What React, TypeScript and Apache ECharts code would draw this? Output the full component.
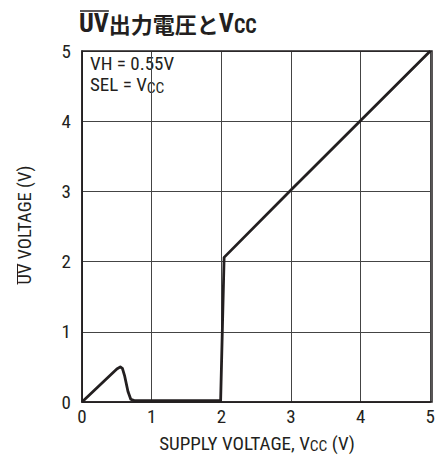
import React, { useEffect, useRef } from "react";
import * as echarts from "echarts";

const xValues = [0, 0.5, 0.55, 0.58, 0.61, 0.66, 0.7, 0.75, 1.0, 1.5, 1.99, 2.04, 3, 4, 5];
const yValues = [0, 0.47, 0.5, 0.48, 0.38, 0.15, 0.04, 0.02, 0.02, 0.02, 0.02, 2.06, 3.02, 4.01, 5];
const xTicks = [0, 1, 2, 3, 4, 5];
const yTicks = [0, 1, 2, 3, 4, 5];

const COND = "'Roboto Condensed', 'Liberation Sans Narrow', sans-serif";
const JP = "'Noto Sans CJK JP', sans-serif";
const INK = "#231f20";

function measure(text: string, font: string): number {
  const c = document.createElement("canvas");
  const ctx = c.getContext("2d");
  if (!ctx) return text.length * 8;
  ctx.font = font;
  return ctx.measureText(text).width;
}

export default function App() {
  const ref = useRef<HTMLDivElement>(null);
  useEffect(() => {
    if (!ref.current) return;
    const chart = echarts.init(ref.current, null, { renderer: "svg" });
    const data = xValues.map((x, i) => [x, yValues[i]]);

    const titleSize = 26;
    const uvTitleW = measure("UV", `bold ${titleSize}px ${COND}`);
    const ySize = 18.5;
    const yLabel = "UV VOLTAGE (V)";
    const yLabelW = measure(yLabel, `${ySize}px ${COND}`);
    const uvYW = measure("UV", `${ySize}px ${COND}`);
    const yCx = 25;
    const yCy = 225;
    const yBottom = yCy + yLabelW / 2;

    chart.setOption({
      animation: false,
      backgroundColor: "#ffffff",
      grid: { left: 82, right: 6, top: 51, bottom: 58 },
      xAxis: {
        type: "value",
        min: xTicks[0],
        max: xTicks[xTicks.length - 1],
        interval: 1,
        axisLine: { show: true, lineStyle: { color: INK, width: 1.5 } },
        axisTick: { show: false },
        axisLabel: { color: INK, fontFamily: COND, fontSize: 19, margin: 5 },
        splitLine: { show: true, lineStyle: { color: "#444444", width: 1 } },
      },
      yAxis: {
        type: "value",
        min: yTicks[0],
        max: yTicks[yTicks.length - 1],
        interval: 1,
        axisLine: { show: true, lineStyle: { color: INK, width: 1.5 } },
        axisTick: { show: false },
        axisLabel: { color: INK, fontFamily: COND, fontSize: 19, margin: 11 },
        splitLine: { show: true, lineStyle: { color: "#444444", width: 1 } },
      },
      series: [
        {
          type: "line",
          data,
          showSymbol: false,
          smooth: false,
          lineStyle: { color: INK, width: 2.8, join: "round" },
          z: 5,
        },
      ],
      graphic: [
        {
          type: "rect",
          shape: { x: 82, y: 51, width: 350, height: 351 },
          style: { fill: "none", stroke: INK, lineWidth: 1.5 },
          silent: true,
          z: 10,
        },
        {
          type: "text",
          left: 79,
          top: 10,
          style: {
            text: "{a|UV}{j|出力電圧と}{a|V}{s|CC}",
            rich: {
              a: { fontFamily: COND, fontWeight: "bold", fontSize: titleSize, fill: INK, lineHeight: 30 },
              j: { fontFamily: JP, fontWeight: "bold", fontSize: 22, fill: INK, lineHeight: 30 },
              s: { fontFamily: COND, fontWeight: "bold", fontSize: 20, fill: INK, lineHeight: 30, padding: [5, 0, 0, 0] },
            },
          },
        },
        {
          type: "line",
          shape: { x1: 80, y1: 11, x2: 79 + uvTitleW, y2: 11 },
          style: { stroke: INK, lineWidth: 1.5 },
        },
        {
          type: "text",
          left: 90,
          top: 54,
          style: {
            text: "{m|VH = 0.55V}\n{m|SEL = V}{s|CC}",
            rich: {
              m: { fontFamily: COND, fontSize: 19, fill: INK, lineHeight: 21 },
              s: { fontFamily: COND, fontSize: 15.5, fill: INK, lineHeight: 21, padding: [6, 0, 0, 0] },
            },
          },
        },
        {
          type: "text",
          x: 257,
          y: 443,
          style: {
            text: "{m|SUPPLY VOLTAGE, V}{s|CC}{m| (V)}",
            align: "center",
            verticalAlign: "middle",
            rich: {
              m: { fontFamily: COND, fontSize: 19, fill: INK, lineHeight: 22 },
              s: { fontFamily: COND, fontSize: 15.5, fill: INK, lineHeight: 22, padding: [6, 0, 0, 0] },
            },
          },
        },
        {
          type: "text",
          x: yCx,
          y: yCy,
          rotation: Math.PI / 2,
          style: {
            text: yLabel,
            fontFamily: COND,
            fontSize: ySize,
            fill: INK,
            align: "center",
            verticalAlign: "middle",
          },
        },
        {
          type: "line",
          shape: { x1: yCx - 7.5, y1: yBottom, x2: yCx - 7.5, y2: yBottom - uvYW },
          style: { stroke: INK, lineWidth: 1 },
        },
      ],
    });
    return () => chart.dispose();
  }, []);
  return <div ref={ref} style={{ position: "absolute", left: 0, top: 0, width: 438, height: 460 }} />;
}
